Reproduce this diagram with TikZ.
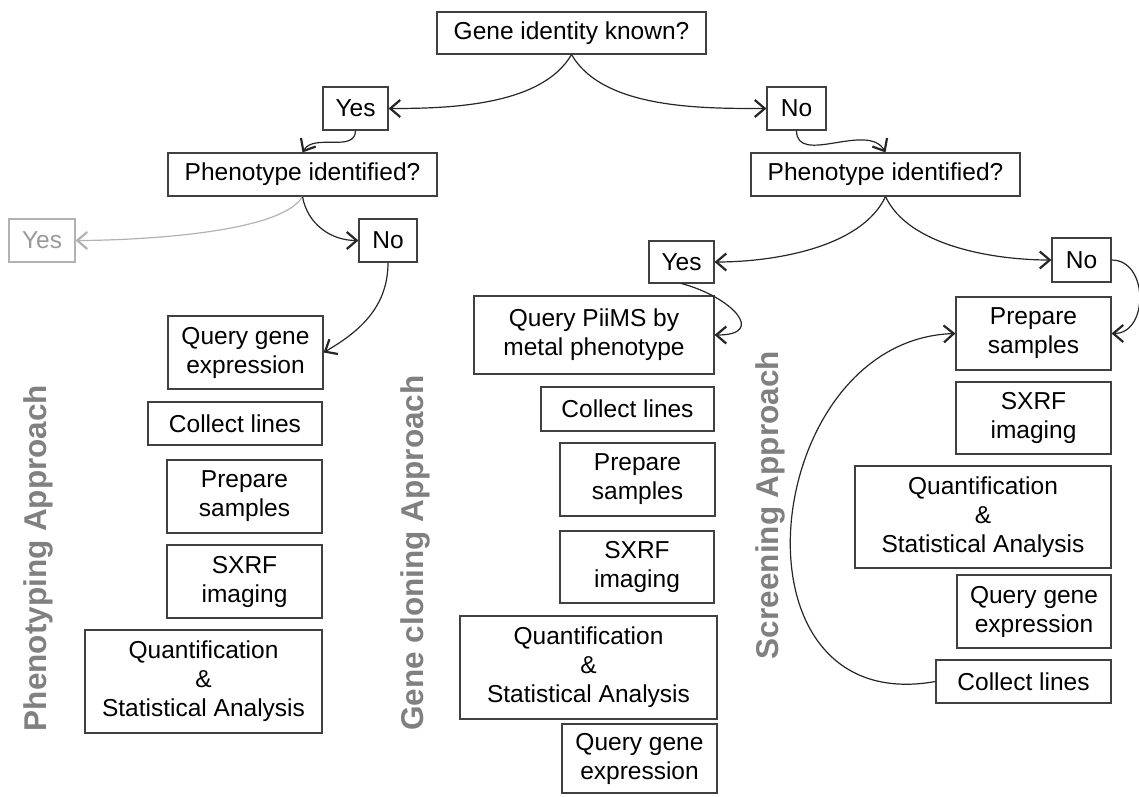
\documentclass[tikz,border=0pt]{standalone}
\usepackage{fontspec}
\setmainfont{Liberation Sans}
\usetikzlibrary{arrows.meta}

\tikzset{
  box/.style={draw=black!75, line width=1.1pt, align=center, inner sep=2pt,
    font=\fontsize{24.5}{29}\selectfont},
  greybox/.style={box, draw=black!30, text=black!40},
  approach/.style={rotate=90, text=black!50, inner sep=0pt,
    font=\fontsize{31.5}{36}\selectfont\bfseries},
  link/.style={draw=black!85, line width=1.2pt,
    -{Straight Barb[length=10pt,width=17pt,line width=2.2pt]}},
  greylink/.style={link, draw=black!30},
}

\begin{document}
\begin{tikzpicture}[x=1pt,y=1pt]
\useasboundingbox (0,0) rectangle (1139,796);

% decision part
\node[box, minimum width=269pt, minimum height=42pt] (gene) at (571.5,763) {Gene identity known?};
\node[box, minimum width=65pt, minimum height=43pt] (yes1) at (355.5,687.5) {Yes};
\node[box, minimum width=59pt, minimum height=43pt] (no1) at (796.5,687.5) {No};
\node[box, minimum width=269pt, minimum height=43pt] (lph) at (302.5,621.5) {Phenotype identified?};
\node[box, minimum width=269pt, minimum height=43pt] (rph) at (885.5,621.5) {Phenotype identified?};
\node[greybox, minimum width=66pt, minimum height=43pt] (gyes) at (42,555.5) {Yes};
\node[box, minimum width=58pt, minimum height=43pt] (lno) at (388,555.5) {No};
\node[box, minimum width=65pt, minimum height=42pt] (myes) at (681.5,534) {Yes};
\node[box, minimum width=59pt, minimum height=44pt] (rno) at (1081.5,536) {No};

% phenotyping approach
\node[box, minimum width=155pt, minimum height=73pt] (lquery) at (245.5,443.5) {Query gene\\expression};
\node[box, minimum width=174pt, minimum height=43pt] (lcollect) at (235,372.5) {Collect lines};
\node[box, minimum width=155pt, minimum height=73pt] (lprep) at (244.5,299.5) {Prepare\\samples};
\node[box, minimum width=155pt, minimum height=73pt] (lsxrf) at (244.5,214.5) {SXRF\\imaging};
\node[box, minimum width=237pt, minimum height=103pt] (lquant) at (203.5,114.5) {Quantification\\\&\\Statistical Analysis};

% gene cloning approach
\node[box, minimum width=240pt, minimum height=78pt] (piims) at (594,461) {Query PiiMS by\\metal phenotype};
\node[box, minimum width=173pt, minimum height=44pt] (mcollect) at (627.5,387) {Collect lines};
\node[box, minimum width=155pt, minimum height=73pt] (mprep) at (637.5,316.5) {Prepare\\samples};
\node[box, minimum width=154pt, minimum height=72pt] (msxrf) at (637,229) {SXRF\\imaging};
\node[box, minimum width=257pt, minimum height=103pt] (mquant) at (588.5,128.5) {Quantification\\\&\\Statistical Analysis};
\node[box, minimum width=155pt, minimum height=69pt] (mquery) at (639.5,37.5) {Query gene\\expression};

% screening approach
\node[box, minimum width=155pt, minimum height=73pt] (rprep) at (1033.5,462.5) {Prepare\\samples};
\node[box, minimum width=155pt, minimum height=72pt] (rsxrf) at (1033.5,378) {SXRF\\imaging};
\node[box, minimum width=256pt, minimum height=102pt] (rquant) at (983,279) {Quantification\\\&\\Statistical Analysis};
\node[box, minimum width=154pt, minimum height=73pt] (rquery) at (1034,184.5) {Query gene\\expression};
\node[box, minimum width=175pt, minimum height=43pt] (rcollect) at (1023.5,114.5) {Collect lines};

\node[approach] (phenlab) at (38,238) {Phenotyping Approach};
\node[approach] (clonlab) at (415,243) {Gene cloning Approach};
\node[approach] (scrnlab) at (770,291) {Screening Approach};

% connectors
\draw[link] (gene.south) to[out=-120, in=0, looseness=0.8] (yes1.east);
\draw[link] (gene.south) to[out=-60, in=180, looseness=0.8] (no1.west);
\draw[link] (yes1.south) to[out=-90, in=60] (lph.north);
\draw[link] (no1.south) to[out=-90, in=120] (rph.north);
\draw[greylink] (lph.south) to[out=-120, in=0, looseness=0.5] (gyes.east);
\draw[link] (lph.south) to[out=-80, in=180] (lno.west);
\draw[link] (lno.south) to[out=-90, in=30] (lquery.east);
\draw[link] (rph.south) to[out=-115, in=0, looseness=0.8] (myes.east);
\draw[link] (rph.south) to[out=-65, in=180, looseness=0.8] (rno.west);
\draw[link] (myes.south) to[out=-15, in=0, looseness=2.2] (piims.east);
\draw[link] (rno.east) to[out=0, in=0, looseness=1.3] (rprep.east);
\draw[link] (rcollect.west) .. controls (720,76) and (760,456) .. (rprep.west);

\end{tikzpicture}
\end{document}
